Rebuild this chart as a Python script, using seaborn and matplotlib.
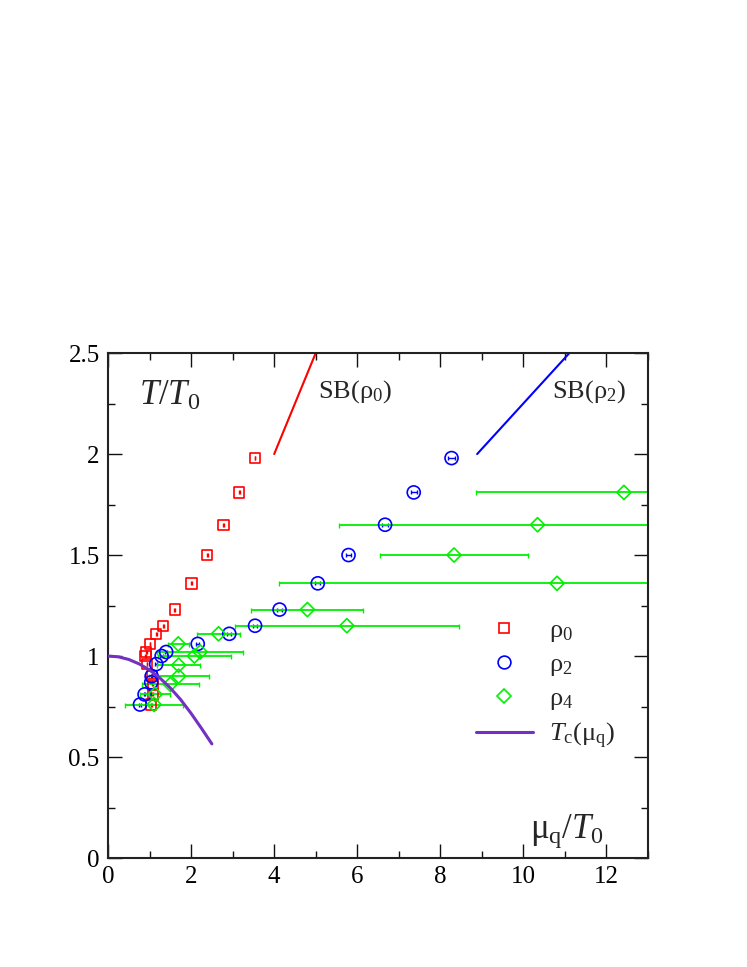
import numpy as np
import pandas as pd
import matplotlib
matplotlib.use("Agg")
import matplotlib.pyplot as plt
from matplotlib.lines import Line2D
from matplotlib.ticker import FixedLocator, FixedFormatter, MultipleLocator
import seaborn as sns

# ---------------- data ----------------
rho0_T = [0.76, 0.81, 0.86, 0.90, 0.96, 1.00, 1.02, 1.06, 1.11, 1.15, 1.23, 1.36, 1.50, 1.65, 1.81, 1.98]
rho0_mu = [1.04, 1.08, 1.08, 1.06, 0.94, 0.90, 0.92, 1.01, 1.16, 1.33, 1.61, 2.01, 2.39, 2.78, 3.16, 3.54]
rho0_err = [0.01] * 16

rho2_T = [0.76, 0.81, 0.87, 0.90, 0.96, 1.00, 1.02, 1.06, 1.11, 1.15, 1.23, 1.36, 1.50, 1.65, 1.81, 1.98]
rho2_mu = [0.77, 0.88, 1.04, 1.05, 1.16, 1.29, 1.40, 2.16, 2.92, 3.54, 4.13, 5.05, 5.79, 6.67, 7.36, 8.27]
rho2_err = [0.02, 0.02, 0.02, 0.02, 0.02, 0.03, 0.03, 0.04, 0.05, 0.05, 0.05, 0.06, 0.07, 0.07, 0.07, 0.08]

rho4_T = [0.76, 0.81, 0.86, 0.90, 0.955, 1.00, 1.02, 1.06, 1.11, 1.15, 1.23, 1.36, 1.50, 1.65, 1.81]
rho4_mu = [1.11, 1.13, 1.50, 1.70, 1.70, 2.08, 2.22, 1.69, 2.66, 5.75, 4.80, 10.81, 8.33, 10.34, 12.42]
rho4_err = [0.70, 0.36, 0.68, 0.72, 0.52, 0.87, 1.03, 0.25, 0.51, 2.69, 1.35, 6.69, 1.79, 4.79, 3.55]

tc_mu = [0.0, 0.25, 0.5, 0.75, 1.0, 1.25, 1.5, 1.75, 2.0, 2.25, 2.5]
tc_T = [1.0, 0.996, 0.983, 0.961, 0.931, 0.891, 0.842, 0.784, 0.716, 0.642, 0.565]

sb0_mu = [4.0, 5.0]
sb0_T = [2.0, 2.5]
sb2_mu = [8.886, 11.107]
sb2_T = [2.0, 2.5]

xticks = [0, 2, 4, 6, 8, 10, 12]
xticklabels = ["0", "2", "4", "6", "8", "10", "12"]
yticks = [0, 0.5, 1.0, 1.5, 2.0, 2.5]
yticklabels = ["0", "0.5", "1", "1.5", "2", "2.5"]

# ---------------- style ----------------
sns.set_theme(style="ticks")
plt.rcParams["font.family"] = ["Liberation Serif", "DejaVu Serif"]
plt.rcParams["mathtext.fontset"] = "custom"
plt.rcParams["mathtext.rm"] = "Liberation Serif"
plt.rcParams["mathtext.it"] = "Liberation Serif:italic"
plt.rcParams["mathtext.bf"] = "Liberation Serif:bold"

RED = "#ff0000"
BLUE = "#0000ff"
GREEN = "#00f000"
PURPLE = "#7430c0"

fig = plt.figure(figsize=(7.47, 9.67), dpi=100)
ax = fig.add_axes([0.1446, 0.1127, 0.7229, 0.5222])

df0 = pd.DataFrame({"mu": rho0_mu, "T": rho0_T})
df2 = pd.DataFrame({"mu": rho2_mu, "T": rho2_T})
df4 = pd.DataFrame({"mu": rho4_mu, "T": rho4_T})
dtc = pd.DataFrame({"mu": tc_mu, "T": tc_T})

# error bars
ax.errorbar(rho0_mu, rho0_T, xerr=rho0_err, fmt="none", ecolor=RED, elinewidth=1.0, capsize=1.5, capthick=1.0, zorder=2)
ax.errorbar(rho2_mu, rho2_T, xerr=rho2_err, fmt="none", ecolor=BLUE, elinewidth=1.0, capsize=1.5, capthick=1.0, zorder=2)
ax.errorbar(rho4_mu, rho4_T, xerr=rho4_err, fmt="none", ecolor=GREEN, elinewidth=1.3, capsize=1.8, capthick=1.0, zorder=2)

# markers
sns.scatterplot(data=df0, x="mu", y="T", marker="s", s=56, facecolor="none", edgecolor=RED, linewidth=1.2, ax=ax, zorder=3)
sns.scatterplot(data=df2, x="mu", y="T", marker="o", s=88, facecolor="none", edgecolor=BLUE, linewidth=1.2, ax=ax, zorder=3)
sns.scatterplot(data=df4, x="mu", y="T", marker="D", s=52, facecolor="none", edgecolor=GREEN, linewidth=1.2, ax=ax, zorder=3)

# lines
sns.lineplot(x=sb0_mu, y=sb0_T, color=RED, linewidth=1.5, ax=ax, zorder=2)
sns.lineplot(x=sb2_mu, y=sb2_T, color=BLUE, linewidth=1.5, ax=ax, zorder=2)
sns.lineplot(data=dtc, x="mu", y="T", color=PURPLE, linewidth=2.2, ax=ax, zorder=4)

ax.set_xlim(0, 13)
ax.set_ylim(0, 2.5)
ax.xaxis.set_major_locator(FixedLocator(xticks))
ax.xaxis.set_major_formatter(FixedFormatter(xticklabels))
ax.yaxis.set_major_locator(FixedLocator(yticks))
ax.yaxis.set_major_formatter(FixedFormatter(yticklabels))
ax.xaxis.set_minor_locator(MultipleLocator(1))
ax.yaxis.set_minor_locator(MultipleLocator(0.25))
ax.tick_params(which="both", direction="in", top=True, right=True, color="#111111", width=1.0)
ax.tick_params(which="major", length=10, labelsize=18, pad=6)
ax.tick_params(which="minor", length=5)
ax.set_xlabel("")
ax.set_ylabel("")
for sp in ax.spines.values():
    sp.set_linewidth(1.5)
    sp.set_color("#222222")
    sp.set_visible(True)
for lab in ax.get_xticklabels() + ax.get_yticklabels():
    lab.set_color("black")

# text annotations
ax.text(0.75, 2.243, r"$T/T_0$", fontsize=25, ha="left", va="baseline")
ax.text(10.15, 0.10, r"$\mathrm{\mu}_\mathrm{q}/T_0$", fontsize=25, ha="left", va="baseline")
ax.text(5.06, 2.28, r"$\mathrm{SB(\rho_0)}$", fontsize=19, ha="left", va="baseline")
ax.text(10.7, 2.28, r"$\mathrm{SB(\rho_2)}$", fontsize=19, ha="left", va="baseline")

handles = [
    Line2D([], [], linestyle="none", marker="s", markersize=7.5, markerfacecolor="none", markeredgecolor=RED, markeredgewidth=1.2),
    Line2D([], [], linestyle="none", marker="o", markersize=9.2, markerfacecolor="none", markeredgecolor=BLUE, markeredgewidth=1.2),
    Line2D([], [], linestyle="none", marker="D", markersize=7, markerfacecolor="none", markeredgecolor=GREEN, markeredgewidth=1.2),
    Line2D([], [], color=PURPLE, linewidth=2.2),
]
labels = [r"$\mathrm{\rho}_0$", r"$\mathrm{\rho}_2$", r"$\mathrm{\rho}_4$", r"$T_\mathrm{c}(\mathrm{\mu}_\mathrm{q})$"]
leg = ax.legend(handles, labels, loc="upper left", bbox_to_anchor=(0.681, 0.474), frameon=False,
                fontsize=19, handlelength=2.16, handletextpad=0.6, labelspacing=0.32,
                borderpad=0, borderaxespad=0)

fig.savefig("out.png", dpi=100)
